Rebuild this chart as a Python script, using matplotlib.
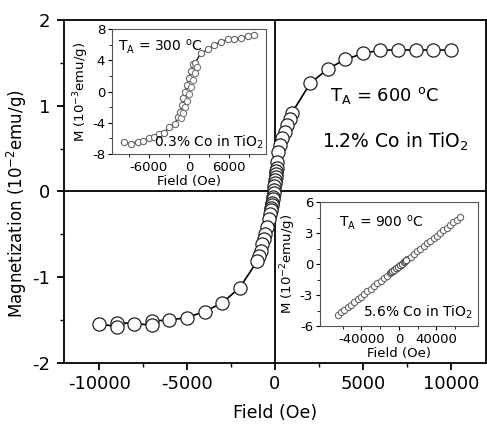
import numpy as np
import matplotlib
matplotlib.use("Agg")
import matplotlib.pyplot as plt

# main loop, T_A = 600 C, 1.2% Co (field in Oe, M in 1e-2 emu/g)
field_600 = [10000, 9000, 8000, 7000, 6000, 5000, 4000, 3000, 2000,
             970, 850, 690, 570, 400, 280, 170, 110,
             90, 70, 50, 30, 10, -10, -30, -55, -80, -105, -130, -160, -190, -220, -255, -290,
             -340, -450, -560, -620, -740, -800, -900, -1000,
             -2000, -3000, -4000, -5000, -6000, -7000, -7000, -8000, -9000, -9000, -10000]
mag_600 = [1.65, 1.65, 1.65, 1.65, 1.65, 1.61, 1.54, 1.43, 1.26,
           0.92, 0.85, 0.77, 0.69, 0.62, 0.54, 0.46, 0.34,
           0.27, 0.24, 0.20, 0.17, 0.13, 0.10, 0.06, 0.02, -0.02, -0.06, -0.09, -0.13, -0.16, -0.19, -0.22, -0.26,
           -0.32, -0.42, -0.50, -0.55, -0.61, -0.69, -0.75, -0.81,
           -1.12, -1.30, -1.40, -1.47, -1.50, -1.51, -1.56, -1.54, -1.53, -1.58, -1.54]

# inset 1, T_A = 300 C, 0.3% Co (M in 1e-3 emu/g)
field_300 = [-9750, -8700, -7650, -6900, -6000, -5250, -4500, -3750, -3000, -2100,
             -1650, -1350, -1050, -900, -600, -300, 0, 300, 600, 900,
             1800, 2850, 3750, 4800, 5850, 6750, 7800, 8850, 9750]
mag_300 = [-6.5, -6.7, -6.4, -6.3, -6.0, -5.8, -5.5, -5.3, -4.6, -4.1,
           -3.3, -2.6, -1.7, -0.8, 0.0, 0.9, 1.8, 2.6, 3.5, 3.7,
           4.9, 5.4, 6.0, 6.4, 6.7, 6.8, 6.9, 7.1, 7.3]
field_300b = [-1200, -900, -600, -300, 0, 300, 600, 900, 1200]
mag_300b = [-3.4, -2.7, -2.0, -1.2, -0.3, 0.6, 1.5, 2.4, 3.2]

# inset 2, T_A = 900 C, 5.6% Co (M in 1e-2 emu/g)
field_900 = [-65000, -61500, -58000, -54500, -51000, -47500, -44000, -40500, -37000,
             -33500, -30000, -26500, -23000, -19500, -16000, -12500, -9000, -6000,
             -4000, -2000, 0, 2000, 4000, 6000, 9000, 12500, 16000, 19500, 23000,
             26500, 30000, 33500, 37000, 40500, 44000, 47500, 51000, 54500, 58000,
             61500, 65000]
mag_900 = [-4.95, -4.69, -4.43, -4.18, -3.92, -3.67, -3.41, -3.16, -2.90,
           -2.65, -2.39, -2.13, -1.88, -1.62, -1.37, -1.11, -0.86, -0.64,
           -0.49, -0.35, -0.20, -0.05, 0.09, 0.24, 0.46, 0.71, 0.97, 1.22, 1.48,
           1.73, 1.99, 2.25, 2.50, 2.76, 3.01, 3.27, 3.52, 3.78, 4.03,
           4.29, 4.55]
field_900b = [-8000, -7000, -5000, -3000, -1000, 1000, 3000, 5000, 7000, 8000]
mag_900b = [-0.78, -0.71, -0.57, -0.42, -0.27, -0.13, 0.02, 0.17, 0.31, 0.38]

plt.rcParams['font.family'] = 'DejaVu Sans'
plt.rcParams['axes.unicode_minus'] = False

fig = plt.figure(figsize=(4.87, 4.26), dpi=100)

# ---------------- main axes ----------------
ax = fig.add_axes([0.1314, 0.148, 0.8665, 0.805])
ax.axhline(0, color='k', lw=1.3, zorder=1)
ax.axvline(0, color='k', lw=1.3, zorder=1)
ax.plot(field_600, mag_600, color='k', lw=1.2, marker='o', markersize=9.5,
        markerfacecolor='white', markeredgecolor='#222222', markeredgewidth=0.9, zorder=3)
ax.set_xlim(-12000, 12000)
ax.set_ylim(-2, 2)
ax.set_xticks([-10000, -5000, 0, 5000, 10000])
ax.set_xticks([-7500, -2500, 2500, 7500], minor=True)
ax.set_yticks([-2, -1, 0, 1, 2])
ax.set_yticks([-1.5, -0.5, 0.5, 1.5], minor=True)
ax.tick_params(axis='both', which='major', labelsize=13, length=5, width=1.3, direction='out')
ax.tick_params(axis='y', which='major', pad=5)
ax.tick_params(axis='both', which='minor', length=3, width=1.0, direction='out')
for s in ax.spines.values():
    s.set_linewidth(1.3)
ax.set_xlabel('Field (Oe)', fontsize=12.5, labelpad=8)
ax.set_ylabel(r'Magnetization (10$^{-2}$emu/g)', fontsize=12)
ax.yaxis.set_label_coords(-0.082, 0.465)
ax.text(0.76, 0.779, r'T$_\mathrm{A}$ = 600 $^\mathrm{o}$C', transform=ax.transAxes,
        fontsize=13, ha='center', va='center')
ax.text(0.785, 0.645, r'1.2% Co in TiO$_2$', transform=ax.transAxes,
        fontsize=13.5, ha='center', va='center')

# ---------------- inset 1 ----------------
ins1 = fig.add_axes([0.230, 0.6385, 0.316, 0.293])
ins1.plot(field_300, mag_300, color='k', lw=0.9, marker='o', markersize=4.5,
          markerfacecolor='white', markeredgecolor='#666666', markeredgewidth=0.8)
ins1.plot(field_300b, mag_300b, ls='none', marker='o', markersize=4.5,
          markerfacecolor='white', markeredgecolor='#777777', markeredgewidth=0.8)
ins1.set_xlim(-11500, 11500)
ins1.set_ylim(-8, 8)
ins1.set_xticks([-6000, 0, 6000])
ins1.set_xticks([-9000, -3000, 3000, 9000], minor=True)
ins1.set_yticks([-8, -4, 0, 4, 8])
ins1.set_yticks([-6, -2, 2, 6], minor=True)
ins1.tick_params(axis='both', which='major', labelsize=9.5, length=3, width=0.8, pad=2)
ins1.tick_params(axis='both', which='minor', length=2, width=0.6)
for s in ins1.spines.values():
    s.set_linewidth(0.8)
    s.set_color('#555555')
ins1.set_xlabel('Field (Oe)', fontsize=9.5, labelpad=1)
ins1.set_ylabel(r'M (10$^{-3}$emu/g)', fontsize=9.5, labelpad=1)
ins1.text(0.04, 0.86, r'T$_\mathrm{A}$ = 300 $^\mathrm{o}$C', transform=ins1.transAxes,
          fontsize=10, ha='left', va='center')
ins1.text(0.99, 0.09, r'0.3% Co in TiO$_2$', transform=ins1.transAxes,
          fontsize=10, ha='right', va='center')

# ---------------- inset 2 ----------------
ins2 = fig.add_axes([0.657, 0.2347, 0.324, 0.291])
ins2.plot(field_900, mag_900, color='k', lw=0.9, marker='o', markersize=4.5,
          markerfacecolor='white', markeredgecolor='#666666', markeredgewidth=0.8)
ins2.plot(field_900b, mag_900b, ls='none', marker='o', markersize=4.5,
          markerfacecolor='white', markeredgecolor='#555555', markeredgewidth=0.8)
ins2.set_xlim(-84000, 84000)
ins2.set_ylim(-6, 6)
ins2.set_xticks([-40000, 0, 40000])
ins2.set_xticks([-60000, -20000, 20000, 60000], minor=True)
ins2.set_yticks([-6, -3, 0, 3, 6])
ins2.set_yticks([-4.5, -1.5, 1.5, 4.5], minor=True)
ins2.tick_params(axis='both', which='major', labelsize=9.5, length=3, width=0.8, pad=2)
ins2.tick_params(axis='both', which='minor', length=2, width=0.6)
for s in ins2.spines.values():
    s.set_linewidth(0.8)
    s.set_color('#555555')
ins2.set_xlabel('Field (Oe)', fontsize=9.5, labelpad=1)
ins2.set_ylabel(r'M (10$^{-2}$emu/g)', fontsize=9.5, labelpad=1)
ins2.text(0.12, 0.83, r'T$_\mathrm{A}$ = 900 $^\mathrm{o}$C', transform=ins2.transAxes,
          fontsize=10, ha='left', va='center')
ins2.text(0.97, 0.11, r'5.6% Co in TiO$_2$', transform=ins2.transAxes,
          fontsize=10, ha='right', va='center')

fig.savefig('out.png', dpi=100)
